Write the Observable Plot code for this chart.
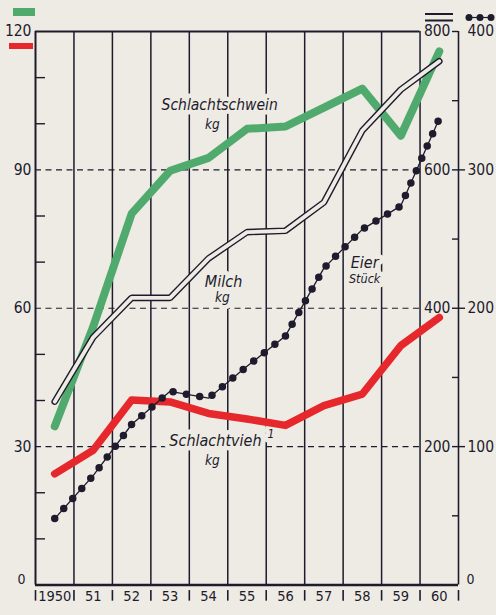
<!DOCTYPE html>
<html><head><meta charset="utf-8">
<script src="https://cdn.jsdelivr.net/npm/d3@7"></script>
<script src="https://cdn.jsdelivr.net/npm/@observablehq/plot@0.6"></script>
<style>
html,body{margin:0;padding:0;background:#eeebe4;}
#wrap{position:relative;width:496px;height:615px;overflow:hidden;}
#wrap svg{display:block;}
#legend{position:absolute;left:0;top:0;}
</style></head><body>
<div id="wrap"></div>
<script>
// ---- data ----
const years = [1950,1951,1952,1953,1954,1955,1956,1957,1958,1959,1960];
const yearLabels = ["1950","51","52","53","54","55","56","57","58","59","60"];
const schlachtschwein = [34.4, 56.0, 80.5, 89.8, 92.6, 98.9, 99.4, 103.5, 107.6, 97.4, 115.7]; // kg, left axis
const schlachtvieh   = [24.1, 29.2, 40.1, 39.7, 37.2, 36.0, 34.6, 38.9, 41.4, 51.9, 58.0];   // kg, left axis
const milch          = [265, 358, 415, 415, 472, 510, 512, 553, 657, 716, 757];              // kg, 0–800 axis
const eier           = [48, 79, 116, 140, 135, 158, 180, 229, 257, 274, 337];                // Stück, 0–400 axis
const leftTicks  = [0, 30, 60, 90, 120];
const leftMinor  = [10, 20, 40, 50, 70, 80, 100, 110];
const milchTicks = [200, 400, 600, 800];
const milchMinor = [100, 300, 500, 700];
const eierTicks  = [0, 100, 200, 300, 400];

const KG_MAX = 120, MILCH_MAX = 800, EIER_MAX = 400;
const fromMilch = m => m * KG_MAX / MILCH_MAX;
const fromEier  = e => e * KG_MAX / EIER_MAX;

const rows = years.map((yr, i) => ({
  year: yr,
  schwein: schlachtschwein[i],
  vieh: schlachtvieh[i],
  milch: fromMilch(milch[i]),
  eier: fromEier(eier[i])
}));
const bounds = d3.range(1949.5, 1961, 1);
const inner = bounds.slice(1, -1);

const INK = "#1d1b2c", BG = "#eeebe4", GREEN = "#50aa6e", RED = "#e6282d";
const FONT = "'DejaVu Sans Condensed','DejaVu Sans',sans-serif";
const kx = 423 / 11; // px per year (for short tick lengths)

const halo = {fill: INK, stroke: BG, strokeWidth: 9, paintOrder: "stroke", fontStyle: "italic", textAnchor: "middle", lineAnchor: "middle"};

const chart = Plot.plot({
  width: 496, height: 615,
  marginLeft: 35, marginRight: 38, marginTop: 31, marginBottom: 30.5,
  x: {domain: [1949.5, 1960.5], axis: null},
  y: {domain: [0, 120], axis: null},
  style: {background: "transparent", fontFamily: FONT, overflow: "visible", fontStretch: "condensed"},
  marks: [
    // dashed gridlines
    Plot.ruleY([30, 60, 90], {x1: 1949.5, x2: 1959.5, stroke: INK, strokeWidth: 1.2, strokeDasharray: "6,4.5"}),
    // vertical year separators
    Plot.ruleX(inner, {y1: 0, y2: 120, stroke: INK, strokeWidth: 1.5}),
    // frame
    Plot.ruleX([1949.5], {y1: 0, y2: 120, stroke: INK, strokeWidth: 2}),
    Plot.ruleX([1960.5], {y1: 0, y2: 120, stroke: INK, strokeWidth: 1.6}),
    Plot.ruleY([120], {x1: 1949.5, x2: 1959.5, stroke: INK, strokeWidth: 2}),
    Plot.ruleY([0], {x1: 1949.5, x2: 1960.5, stroke: INK, strokeWidth: 2.4}),
    // left minor ticks
    Plot.ruleY(leftMinor, {x1: 1949.5, x2: 1949.5 + 10 / kx, stroke: INK, strokeWidth: 1.4}),
    // right axis ticks
    Plot.ruleY(milchMinor.map(fromMilch), {x1: 1960.5 - 6 / kx, x2: 1960.5, stroke: INK, strokeWidth: 1.4}),
    Plot.ruleY(milchTicks.filter(d => d < 800).map(fromMilch), {x1: 1960.5 - 6 / kx, x2: 1960.5 + 7 / kx, stroke: INK, strokeWidth: 1.4}),
    Plot.ruleY([fromMilch(800)], {x1: 1960.5 - 6 / kx, x2: 1960.5, stroke: INK, strokeWidth: 1.4}),
    // bottom separators "I"
    Plot.ruleX(bounds, {y1: -1.2, y2: -3.5, stroke: INK, strokeWidth: 1.6}),

    // series labels (with halo that interrupts the grid)
    Plot.text([{t: "Schlachtschwein", x: 1954.29, y: 104.0}], {...halo, x: "x", y: "y", text: "t", fontSize: 15.5}),
    Plot.text([{t: "kg", x: 1954.1, y: 99.8}], {...halo, x: "x", y: "y", text: "t", fontSize: 13.5}),
    Plot.text([{t: "Milch", x: 1954.39, y: 65.8}], {...halo, x: "x", y: "y", text: "t", fontSize: 16}),
    Plot.text([{t: "kg", x: 1954.36, y: 62.2}], {...halo, x: "x", y: "y", text: "t", fontSize: 13.5}),
    Plot.text([{t: "Eier", x: 1958.06, y: 69.8}], {...halo, x: "x", y: "y", text: "t", fontSize: 16}),
    Plot.text([{t: "Stück", x: 1958.06, y: 66.3}], {...halo, x: "x", y: "y", text: "t", fontSize: 12.5}),
    Plot.text([{t: "Schlachtvieh", x: 1954.18, y: 31.3}], {...halo, x: "x", y: "y", text: "t", fontSize: 16}),
    Plot.text([{t: "1", x: 1955.62, y: 32.6}], {...halo, x: "x", y: "y", text: "t", fontSize: 12}),
    Plot.text([{t: "kg", x: 1954.1, y: 27.0}], {...halo, x: "x", y: "y", text: "t", fontSize: 13.5}),

    // data lines
    Plot.line(rows, {x: "year", y: "schwein", stroke: GREEN, strokeWidth: 8, strokeLinejoin: "round"}),
    Plot.line(rows, {x: "year", y: "vieh", stroke: RED, strokeWidth: 7.5, strokeLinejoin: "round"}),
    Plot.line(rows, {x: "year", y: "milch", stroke: INK, strokeWidth: 6.6, strokeLinejoin: "miter"}),
    Plot.line(rows, {x: "year", y: "milch", stroke: BG, strokeWidth: 3.8, strokeLinejoin: "miter"}),
    Plot.line(rows, {x: "year", y: "eier", stroke: INK, strokeWidth: 1.3}),
    Plot.line(rows, {x: "year", y: "eier", stroke: INK, strokeWidth: 7.5, strokeDasharray: "0,13.5", strokeLinecap: "round"}),

    // tick labels
    Plot.text(yearLabels, {x: (d, i) => years[i], y: 0, text: d => d, dy: 11, fontSize: 14.5, fill: INK, lineAnchor: "middle"}),
    Plot.text(leftTicks.filter(d => d > 0), {x: 1949.5, y: d => d, text: d => String(d), dx: -4, textAnchor: "end", fontSize: 15.5, fill: INK}),
    Plot.text([0], {x: 1949.5, y: 0, text: d => String(d), dx: -10, dy: -5, textAnchor: "end", fontSize: 14, fill: INK}),
    Plot.text(milchTicks, {x: 1960.5, y: fromMilch, text: d => String(d), dx: -8, textAnchor: "end", fontSize: 15.5, fill: INK}),
    Plot.text(eierTicks.filter(d => d > 0), {x: 1960.5, y: fromEier, text: d => String(d), dx: 9, textAnchor: "start", fontSize: 15.5, fill: INK}),
    Plot.text([0], {x: 1960.5, y: 0, text: d => String(d), dx: 8, dy: -5, textAnchor: "start", fontSize: 14, fill: INK})
  ]
});

const wrap = document.getElementById("wrap");
wrap.appendChild(chart);
const ns = "http://www.w3.org/2000/svg";
const legend = document.createElementNS(ns, "svg");
legend.setAttribute("id", "legend");
legend.setAttribute("width", "496");
legend.setAttribute("height", "60");
legend.innerHTML = `
  <rect x="13" y="8" width="22" height="8" fill="${GREEN}"/>
  <rect x="9" y="43" width="24" height="6" fill="${RED}"/>
  <line x1="425" x2="453" y1="14" y2="14" stroke="${INK}" stroke-width="2"/>
  <line x1="425" x2="453" y1="20.5" y2="20.5" stroke="${INK}" stroke-width="2"/>
  <line x1="469" x2="491" y1="17.5" y2="17.5" stroke="${INK}" stroke-width="1.2"/>
  <circle cx="469" cy="17.5" r="3.5" fill="${INK}"/>
  <circle cx="480" cy="17.5" r="3.5" fill="${INK}"/>
  <circle cx="491" cy="17.5" r="3.5" fill="${INK}"/>`;
wrap.appendChild(legend);
</script>
</body></html>
